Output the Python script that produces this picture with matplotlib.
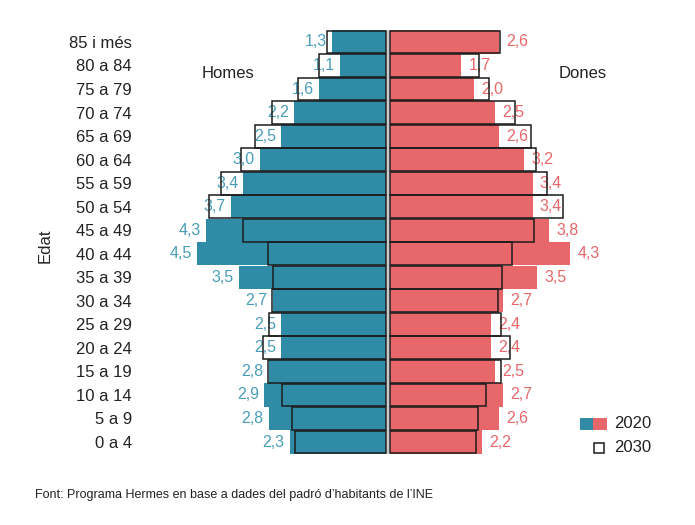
import matplotlib
matplotlib.use("Agg")
import matplotlib.pyplot as plt
from matplotlib.patches import Rectangle

plt.rcParams['font.family'] = ['Liberation Sans', 'DejaVu Sans']

# grups d'edat, de baix a dalt
ages = ['0 a 4', '5 a 9', '10 a 14', '15 a 19', '20 a 24', '25 a 29',
        '30 a 34', '35 a 39', '40 a 44', '45 a 49', '50 a 54', '55 a 59',
        '60 a 64', '65 a 69', '70 a 74', '75 a 79', '80 a 84', '85 i més']
men_2020 = [2.3, 2.8, 2.9, 2.8, 2.5, 2.5, 2.7, 3.5, 4.5, 4.3, 3.7, 3.4,
            3.0, 2.5, 2.2, 1.6, 1.1, 1.3]
women_2020 = [2.2, 2.6, 2.7, 2.5, 2.4, 2.4, 2.7, 3.5, 4.3, 3.8, 3.4, 3.4,
              3.2, 2.6, 2.5, 2.0, 1.7, 2.6]
men_2030 = [2.16, 2.25, 2.48, 2.82, 2.94, 2.80, 2.71, 2.69, 2.82, 3.41, 4.22, 3.93,
            3.45, 3.11, 2.72, 2.10, 1.59, 1.40]
women_2030 = [2.04, 2.09, 2.29, 2.65, 2.85, 2.64, 2.58, 2.67, 2.90, 3.44, 4.11, 3.74,
              3.47, 3.35, 2.99, 2.35, 2.13, 2.62]

teal = '#2F8BA6'
salmon = '#E8676A'
teal_txt = '#4A9DB8'
salmon_txt = '#E8676A'
edge = '#1c1c1c'

W, H = 695, 525
fig = plt.figure(figsize=(W / 100, H / 100), dpi=100)
ax = fig.add_axes([136 / W, 1 - 453.8 / H, 504 / W, 423.6 / H])

y = list(range(len(ages)))
gap = 0.045

ax.barh(y, [-v for v in men_2020], left=-gap, height=0.99, color=teal, zorder=2)
ax.barh(y, women_2020, left=gap, height=0.99, color=salmon, zorder=2)
ax.barh(y, [-v for v in men_2030], left=-gap, height=0.97, facecolor='none',
        edgecolor=edge, linewidth=1.1, zorder=3)
ax.barh(y, women_2030, left=gap, height=0.97, facecolor='none',
        edgecolor=edge, linewidth=1.1, zorder=3)

ax.axvline(0, color='#c8c8c8', linewidth=1.4, zorder=4)

def fmt(v):
    return f"{v:.1f}".replace('.', ',')

for i in y:
    ax.text(-gap - men_2020[i] - 0.12, i, fmt(men_2020[i]), ha='right',
            va='center', fontsize=11.5, color=teal_txt, zorder=2.5)
    ax.text(gap + women_2020[i] + 0.17, i, fmt(women_2020[i]), ha='left',
            va='center', fontsize=11.5, color=salmon_txt, zorder=2.5)

ax.set_xlim(-6, 6)
ax.set_ylim(-0.5, len(ages) - 0.5)
ax.set_yticks(y)
ax.set_yticklabels(ages, fontsize=12, color='#222222')
ax.tick_params(axis='y', length=0, pad=3)
ax.set_xticks([])
for s in ax.spines.values():
    s.set_visible(False)

fig.text(45 / W, 1 - 246 / H, 'Edat', rotation=90, ha='center', va='center',
         fontsize=12, color='#222222')
fig.text(228 / W, 1 - 73 / H, 'Homes', ha='center', va='center',
         fontsize=12, color='#222222')
fig.text(583 / W, 1 - 73 / H, 'Dones', ha='center', va='center',
         fontsize=12, color='#222222')

# llegenda
def box(x0, y0, x1, y1, **kw):
    fig.add_artist(Rectangle((x0 / W, 1 - y1 / H), (x1 - x0) / W, (y1 - y0) / H,
                             transform=fig.transFigure, **kw))

box(580, 418, 593, 430, facecolor=teal, edgecolor='none')
box(593, 418, 607, 430, facecolor=salmon, edgecolor='none')
box(594, 443, 604, 453, facecolor='white', edgecolor=edge, linewidth=1.1)
fig.text(614 / W, 1 - 424 / H, '2020', ha='left', va='center', fontsize=12,
         color='#222222')
fig.text(614 / W, 1 - 448 / H, '2030', ha='left', va='center', fontsize=12,
         color='#222222')

fig.text(35 / W, 1 - 495 / H,
         "Font: Programa Hermes en base a dades del padró d’habitants de l’INE",
         ha='left', va='center', fontsize=9, color='#222222')

fig.savefig('out.png', dpi=100)
